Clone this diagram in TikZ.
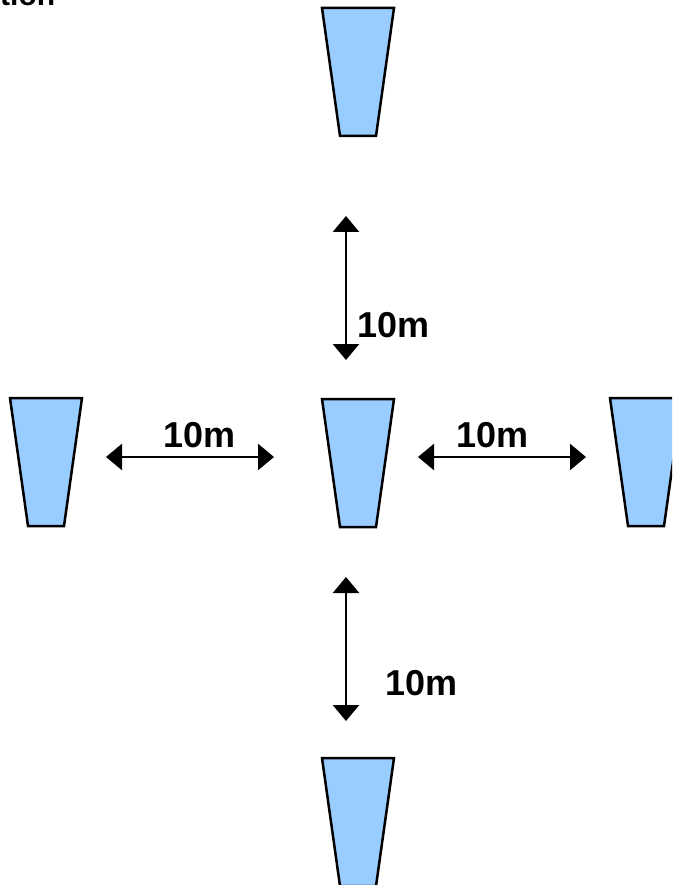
\documentclass[tikz,border=0pt]{standalone}
\usepackage{fontspec}
\setmainfont{Liberation Sans}
\usetikzlibrary{arrows.meta}
\definecolor{cupblue}{RGB}{153,204,255}
\tikzset{
  cup/.style={fill=cupblue,draw=black,line width=2.5pt,line join=miter},
  dist/.style={line width=2.5pt,{Triangle[length=16pt,width=26pt]}-{Triangle[length=16pt,width=26pt]}},
  lbl/.style={inner sep=0pt,anchor=base west,font=\bfseries\fontsize{36}{40}\selectfont}
}
\newcommand{\cupat}[2]{\draw[cup] (#1-36,#2) -- (#1+36,#2) -- (#1+18,#2+128) -- (#1-18,#2+128) -- cycle;}
\begin{document}
\begin{tikzpicture}[x=1pt,y=-1pt]
\useasboundingbox (0,0) rectangle (672,885);
\clip (0,0) rectangle (672,885);
\node[inner sep=0pt,anchor=base west,font=\bfseries\fontsize{30}{34}\selectfont] (title) at (0,6) {tion};
\cupat{358}{8}
\cupat{358}{399}
\cupat{46}{398}
\cupat{646}{398}
\cupat{358}{758}
\coordinate (vt1) at (346,216);
\coordinate (vb1) at (346,360);
\coordinate (hl1) at (106,457);
\coordinate (hl2) at (274,457);
\coordinate (hr1) at (418,457);
\coordinate (hr2) at (586,457);
\coordinate (vt2) at (346,577);
\coordinate (vb2) at (346,721);
\draw[dist] (vt1) -- (vb1);
\draw[dist] (hl1) -- (hl2);
\draw[dist] (hr1) -- (hr2);
\draw[dist] (vt2) -- (vb2);
\node[lbl] (l1) at (357,337) {10m};
\node[lbl] (l2) at (163,447) {10m};
\node[lbl] (l3) at (456,447) {10m};
\node[lbl] (l4) at (385,695) {10m};
\end{tikzpicture}
\end{document}
